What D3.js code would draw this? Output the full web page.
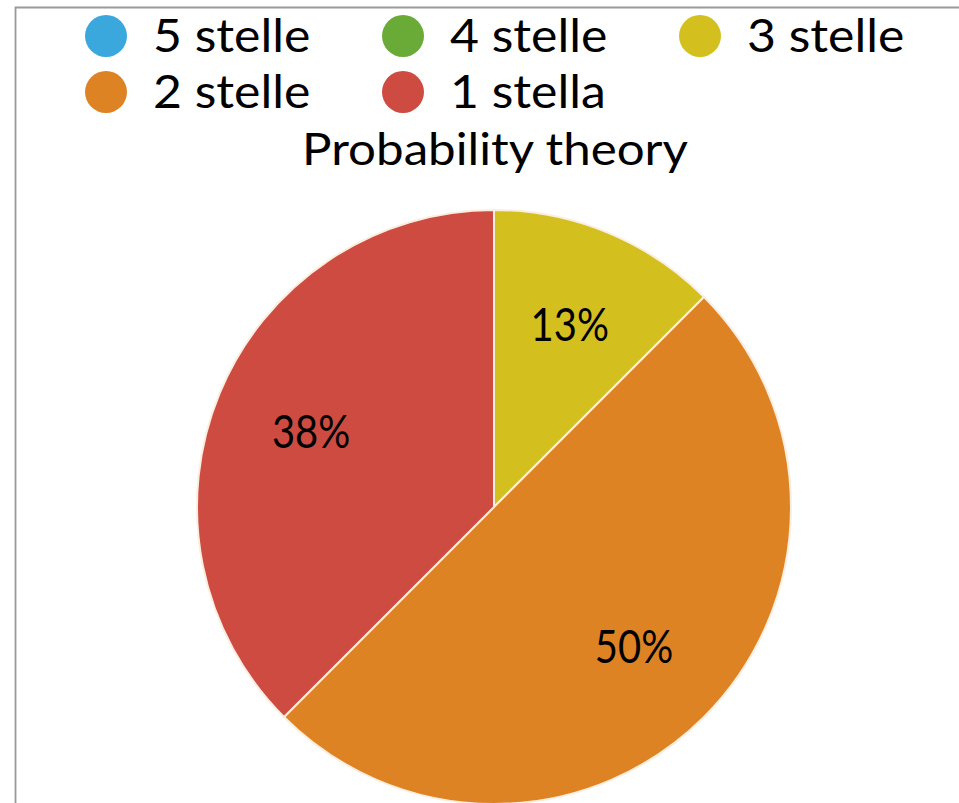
<!DOCTYPE html>
<html><head><meta charset="utf-8">
<script src="https://cdn.jsdelivr.net/npm/d3@7"></script>
<style>html,body{margin:0;padding:0;background:#fff;overflow:hidden}</style>
</head><body>
<script>
const categories = ["5 stelle", "4 stelle", "3 stelle", "2 stelle", "1 stella"];
const values = [0, 0, 1, 4, 3];
const colors = ["#3aa8dc", "#6aaa37", "#d3c01f", "#de8323", "#cd4b40"];
const title = "Probability theory";

const W = 959, H = 803;
const FONT = "Lato, 'Open Sans', sans-serif";
const svg = d3.select("body").append("svg").attr("width", W).attr("height", H);

// stretch text horizontally to mimic the reference typeface proportions
function stretch(sel, f) {
  sel.each(function() {
    const len = this.getComputedTextLength();
    d3.select(this).attr("textLength", len * f).attr("lengthAdjust", "spacingAndGlyphs");
  });
}

// frame
svg.append("path").attr("d", `M15.5,${H} V7.5 H${W}`).attr("fill","none").attr("stroke","#999").attr("stroke-width",1.8);

const color = d3.scaleOrdinal().domain(categories).range(colors);

// legend
const cols = 3, colW = 297, lx0 = 106, ly0 = 36, rowH = 56;
const leg = svg.append("g").selectAll("g").data(categories).join("g")
  .attr("transform", (d,i) => `translate(${lx0 + (i%cols)*colW},${ly0 + Math.floor(i/cols)*rowH})`);
leg.append("circle").attr("r", 21).attr("fill", d => color(d));
leg.append("text").attr("x", 47).attr("dy", "0.35em").attr("font-family", FONT).attr("font-size", 46)
  .attr("fill", "#000").text(d => d).call(stretch, 1.085);

svg.append("text").attr("x", 495).attr("y", 165).attr("text-anchor","middle")
  .attr("font-family", FONT).attr("font-size", 45).text(title).call(stretch, 1.095);

// pie
const cx = 494, cy = 507, R = 297;
const total = d3.sum(values);
const pie = d3.pie().sort(null).value(d => d.v);
const data = categories.map((c,i) => ({c, v: values[i]}));
const arcs = pie(data);
const arc = d3.arc().innerRadius(0).outerRadius(R);
const labelArc = d3.arc().innerRadius(R*2/3).outerRadius(R*2/3);
const g = svg.append("g").attr("transform", `translate(${cx},${cy})`);
g.selectAll("path").data(arcs.filter(a => a.data.v > 0)).join("path")
  .attr("d", arc).attr("fill", a => color(a.data.c)).attr("stroke", "#fbeee0").attr("stroke-width", 2);
g.selectAll("text").data(arcs.filter(a => a.data.v > 0)).join("text")
  .attr("transform", a => `translate(${labelArc.centroid(a)})`)
  .attr("text-anchor","middle").attr("dy","0.35em")
  .attr("font-family", FONT).attr("font-size", 47).attr("fill","#000")
  .text(a => Math.round(a.data.v/total*100) + "%").call(stretch, 0.85);
</script>
</body></html>
